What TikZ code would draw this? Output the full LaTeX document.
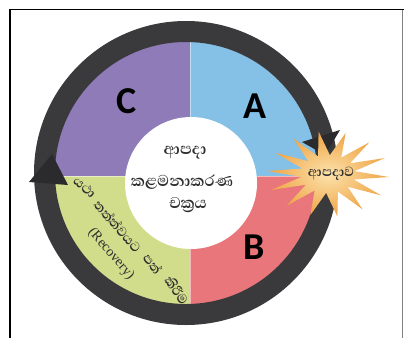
\documentclass[tikz,border=0pt]{standalone}
\usepackage{fontspec}
\setmainfont{Liberation Serif}
\newfontfamily\sinhfont[Script=Sinhala]{Abhaya Libre}
\newfontfamily\lettfont{Carlito}
\definecolor{cpurple}{HTML}{8E7BB8}
\definecolor{cblue}{HTML}{85C0E6}
\definecolor{cred}{HTML}{E8767A}
\definecolor{cgreen}{HTML}{D2DD8C}
\definecolor{cring}{HTML}{3A3A3C}
\definecolor{carrow}{HTML}{2B2B2D}
\definecolor{starin}{HTML}{FCE2AC}
\definecolor{starout}{HTML}{EFA444}
\definecolor{ctext}{HTML}{2E2E2E}
\tikzset{
  letter/.style={font=\lettfont\bfseries\fontsize{38}{38}\selectfont, text=black, inner sep=0pt},
  centertext/.style={font=\sinhfont\bfseries\fontsize{20}{20}\selectfont, text=ctext, inner sep=0pt},
  rectext/.style={font=\sinhfont\bfseries\fontsize{17}{17}\selectfont, text=ctext, inner sep=0pt},
  arrowtip/.style={fill=carrow},
}
\begin{document}
\begin{tikzpicture}[x=1pt,y=-1pt]
\useasboundingbox (0,0) rectangle (404,338);
\fill[white] (0,0) rectangle (404,338);
% frame
\draw[line width=1.4pt] (10,338) -- (10,9.5) -- (404,9.5);
\draw[gray, line width=0.8pt] (402.7,9.5) -- (402.7,338);
% quadrants
\begin{scope}
  \clip (186,173) circle (132);
  \fill[cpurple] (40,20) rectangle (190,176);
  \fill[cblue] (190,20) rectangle (330,176);
  \fill[cred] (190,176) rectangle (330,330);
  \fill[cgreen] (40,176) rectangle (190,330);
  \draw[white, opacity=0.5, line width=0.8pt] (190,20) -- (190,330);
  \draw[white, opacity=0.5, line width=0.8pt] (40,176) -- (330,176);
\end{scope}
% ring
\draw[cring, line width=21pt] (186,173) circle (141.5);
% white centre
\fill[white] (191,183) circle (66);
% arrowheads
\fill[arrowtip] (29,182) -- (52,154) -- (68,185) -- cycle;
\fill[arrowtip] (302,142) -- (340,130) -- (325,155) -- cycle;
% star
\shade[inner color=starin, outer color=starout]
  plot[samples at={0,...,27}, variable=\k]
  ({328 + 61*(0.72+0.28*cos(\k*180))*cos(\k*360/28 + 4)},
   {174 + 43*(0.72+0.28*cos(\k*180))*sin(\k*360/28 + 4)}) -- cycle;
% labels
\node[letter] (C) at (127,101) {C};
\node[letter] (A) at (255,106) {A};
\node[letter] (B) at (254,247) {B};
\node[centertext] (t1) at (185,153) {ආපදා};
\node[centertext] (t2) at (182,182) {කළමනාකරණ};
\node[centertext] (t3) at (188,205) {චක්‍රය};
\node[rectext] (st) at (331,174) {ආපදාව};
\node[rectext, rotate=-42] (r1) at (85,187) {යථා};
\node[rectext, rotate=-49] (r2) at (118,226) {තත්ත්වයට};
\node[rectext, rotate=-52] (r3) at (153,264) {පත්};
\node[rectext, rotate=-56] (r4) at (177,290) {කිරීම};
\node[font=\fontsize{14}{14}\selectfont, text=ctext, inner sep=0pt, rotate=-49] (rec) at (111,254) {(Recovery)};
\end{tikzpicture}
\end{document}
